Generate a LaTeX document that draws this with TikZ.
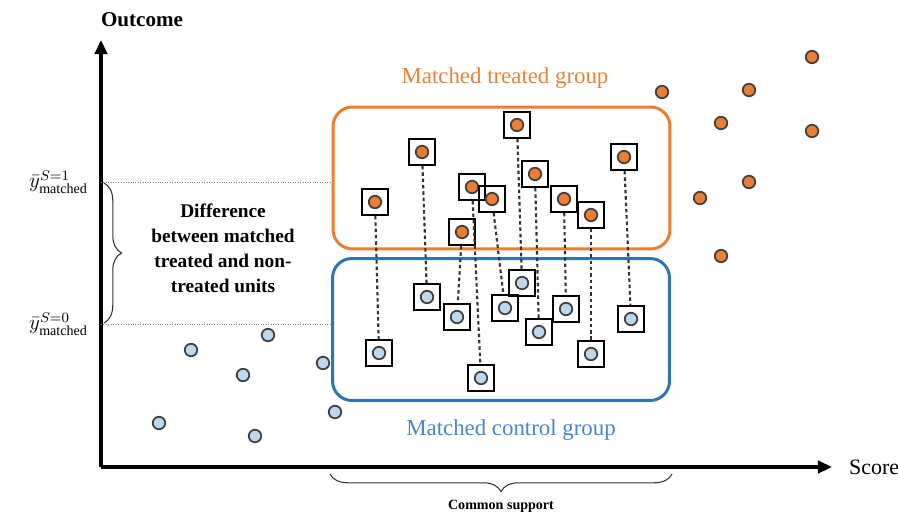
\documentclass[tikz,border=0pt]{standalone}
\usepackage{amsmath}
\usepackage{fontspec}
\setmainfont{Liberation Serif}
\usetikzlibrary{arrows.meta, positioning, decorations.pathreplacing}
\definecolor{treatorange}{HTML}{ED7D31}
\definecolor{ctrlblue}{HTML}{2E75B6}
\definecolor{ctrlfill}{HTML}{BDD7EE}
\definecolor{labelorange}{HTML}{E8833A}
\definecolor{labelblue}{HTML}{4A86C8}
\tikzset{
  axis/.style={line width=2.2pt, -{Triangle[length=8pt,width=7pt]}},
  unit/.style={circle, draw=black!75, line width=1pt, inner sep=0pt,
               minimum size=0.25cm},
  treated/.style={unit, fill=treatorange},
  control/.style={unit, fill=ctrlfill},
  pair/.style={rectangle, draw=black, line width=1.1pt, inner sep=0pt,
               minimum size=0.52cm,
               path picture={\draw[black!75, line width=1pt, fill=#1]
                 (path picture bounding box.center) circle (0.125cm);}},
  link/.style={line width=1.2pt, black!80, dash pattern=on 2pt off 1.6pt},
  group/.style={rectangle, rounded corners=11pt, line width=1.7pt,
                minimum width=6.74cm, minimum height=2.84cm},
  guide/.style={densely dotted, gray, line width=0.4pt},
  brace/.style={decorate, decoration={brace, amplitude=10pt}, black!80, line width=0.6pt}
}
\begin{document}
\begin{tikzpicture}[x=0.02cm, y=-0.02cm]
  \useasboundingbox (0,0) rectangle (898,520);

  % Axes
  \coordinate (origin) at (101,467);
  \coordinate (ytip) at (101,40);
  \coordinate (xtip) at (832,467);
  \draw[axis] (origin) -- (ytip);
  \draw[axis] (origin) -- (xtip);
  \node[font=\bfseries\fontsize{12}{14}\selectfont] (outcome) at (142,20) {Outcome};
  \node[anchor=west, font=\fontsize{12.5}{14}\selectfont] (score) at (843,467) {Score};

  % Mean outcome levels
  \coordinate (hi) at (101,182);
  \coordinate (lo) at (101,324);
  \draw[guide] (hi) -- (332,182);
  \draw[guide] (lo) -- (332,324);
  \node[anchor=east, font=\large] (ybar1) at (94,182) {$\bar{y}^{S=1}_{\text{matched}}$};
  \node[anchor=east, font=\large] (ybar0) at (94,324) {$\bar{y}^{S=0}_{\text{matched}}$};
  \draw[brace] (104,183) -- (104,323);
  \node[align=center, font=\bfseries\fontsize{11}{14.2}\selectfont] (diff) at (223,248)
       {Difference\\between matched\\treated and non-\\treated units};

  % Groups
  \node[group, draw=treatorange] (treatbox) at (501.5,178) {};
  \node[group, draw=ctrlblue] (ctrlbox) at (501,329.5) {};
  \node[above=0.22cm of treatbox, xshift=0.07cm, text=labelorange,
        font=\fontsize{13}{15}\selectfont] (treatlbl) {Matched treated group};
  \node[below=0.22cm of ctrlbox, xshift=0.2cm, text=labelblue,
        font=\fontsize{13}{15}\selectfont] (ctrllbl) {Matched control group};

  % Matched treated units
  \node[pair=treatorange] (t1) at (375,202) {};
  \node[pair=treatorange] (t2) at (422,152) {};
  \node[pair=treatorange] (t3) at (462,232) {};
  \node[pair=treatorange] (t4) at (472,187) {};
  \node[pair=treatorange] (t5) at (492,199) {};
  \node[pair=treatorange] (t6) at (517,125) {};
  \node[pair=treatorange] (t7) at (535,174) {};
  \node[pair=treatorange] (t8) at (564,199) {};
  \node[pair=treatorange] (t9) at (591,215) {};
  \node[pair=treatorange] (t10) at (624,157) {};

  % Matched control units
  \node[pair=ctrlfill] (c1) at (379,353) {};
  \node[pair=ctrlfill] (c2) at (427,297) {};
  \node[pair=ctrlfill] (c3) at (457,317) {};
  \node[pair=ctrlfill] (c4) at (481,378) {};
  \node[pair=ctrlfill] (c5) at (505,308) {};
  \node[pair=ctrlfill] (c6) at (522,283) {};
  \node[pair=ctrlfill] (c7) at (539,332) {};
  \node[pair=ctrlfill] (c8) at (566,309) {};
  \node[pair=ctrlfill] (c9) at (591,354) {};
  \node[pair=ctrlfill] (c10) at (631,319) {};

  % Matches
  \foreach \i in {1,...,10}
    \draw[link] (t\i) -- (c\i);

  % Unmatched treated units
  \node[treated] (u1) at (662,92) {};
  \node[treated] (u2) at (749,90) {};
  \node[treated] (u3) at (812,57) {};
  \node[treated] (u4) at (721,123) {};
  \node[treated] (u5) at (812,131) {};
  \node[treated] (u6) at (749,182) {};
  \node[treated] (u7) at (700,198) {};
  \node[treated] (u8) at (721,256) {};

  % Unmatched control units
  \node[control] (n1) at (191,350) {};
  \node[control] (n2) at (268,335) {};
  \node[control] (n3) at (243,375) {};
  \node[control] (n4) at (323,363) {};
  \node[control] (n5) at (159,423) {};
  \node[control] (n6) at (255,436) {};
  \node[control] (n7) at (335,412) {};

  % Common support
  \draw[brace] (672,474) -- (330,474);
  \node[font=\bfseries\fontsize{8}{10}\selectfont] (support) at (501,506) {Common support};
\end{tikzpicture}
\end{document}
